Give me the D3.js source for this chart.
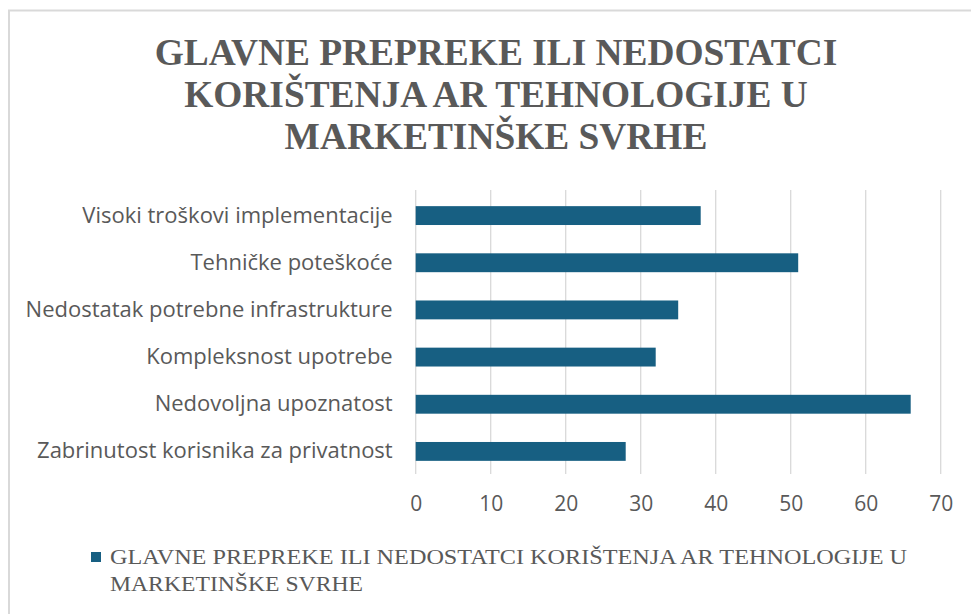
<!DOCTYPE html>
<html>
<head>
<meta charset="utf-8">
<script src="https://cdn.jsdelivr.net/npm/d3@7"></script>
<style>
  body { margin: 0; background: #fff; }
</style>
</head>
<body>
<div id="cntr"></div>
<script>
const width = 971;
const height = 614;

const categories = [
    "Visoki troškovi implementacije",
    "Tehničke poteškoće",
    "Nedostatak potrebne infrastrukture",
    "Kompleksnost upotrebe",
    "Nedovoljna upoznatost",
    "Zabrinutost korisnika za privatnost"
];
const values = [38, 51, 35, 32, 66, 28];
const xTicks = [0, 10, 20, 30, 40, 50, 60, 70];
const titleLines = [
    "GLAVNE PREPREKE ILI NEDOSTATCI",
    "KORIŠTENJA AR TEHNOLOGIJE U",
    "MARKETINŠKE SVRHE"
];
const legendLines = [
    "GLAVNE PREPREKE ILI NEDOSTATCI KORIŠTENJA AR TEHNOLOGIJE U",
    "MARKETINŠKE SVRHE"
];

const barColor = "#175f82";
const textColor = "#595959";
const gridColor = "#d9d9d9";

const svg = d3.select("#cntr")
    .append("svg")
    .attr("width", width)
    .attr("height", height);

// chart area border
svg.append("path")
    .attr("d", "M9,614 L9,10.5 L971,10.5")
    .attr("fill", "none")
    .attr("stroke", gridColor)
    .attr("stroke-width", 2);

// title
svg.append("g")
    .selectAll("text")
    .data(titleLines)
    .join("text")
        .attr("x", 496)
        .attr("y", (d, i) => 65 + i * 42)
        .attr("text-anchor", "middle")
        .style("font", "bold 37.4px 'Liberation Serif', 'Times New Roman', serif")
        .style("fill", textColor)
        .text(d => d);

const x = d3.scaleLinear()
    .domain([0, 70])
    .range([415.7, 940.7]);

const y = d3.scaleBand()
    .domain(categories)
    .range([192, 475])
    .paddingInner(0.6)
    .paddingOuter(0.3);

// gridlines
svg.append("g")
    .selectAll("line")
    .data(xTicks)
    .join("line")
        .attr("x1", d => x(d))
        .attr("x2", d => x(d))
        .attr("y1", 190)
        .attr("y2", 474)
        .attr("stroke", gridColor)
        .attr("stroke-width", 1.3);

// bars
svg.append("g")
    .selectAll("rect")
    .data(values)
    .join("rect")
        .attr("x", x(0))
        .attr("y", (d, i) => y(categories[i]))
        .attr("width", d => x(d) - x(0))
        .attr("height", y.bandwidth())
        .attr("fill", barColor);

// x axis labels
const xAxis = svg.append("g")
    .attr("transform", "translate(0,474)")
    .call(d3.axisBottom(x).tickValues(xTicks).tickSize(0).tickPadding(22));
xAxis.select(".domain").remove();
xAxis.selectAll("text")
    .style("font", "21px 'Open Sans', sans-serif")
    .style("fill", textColor);

// y axis labels
const yAxis = svg.append("g")
    .attr("transform", "translate(" + x(0) + ",0)")
    .call(d3.axisLeft(y).tickSize(0).tickPadding(23));
yAxis.select(".domain").remove();
yAxis.selectAll("text")
    .style("font", "22px 'Open Sans', sans-serif")
    .style("fill", textColor);

// legend
svg.append("rect")
    .attr("x", 91)
    .attr("y", 552)
    .attr("width", 10)
    .attr("height", 10)
    .attr("fill", barColor);

const legendWidths = [797, 253];
svg.append("g")
    .selectAll("text")
    .data(legendLines)
    .join("text")
        .attr("x", 110)
        .attr("y", (d, i) => 564 + i * 27)
        .attr("textLength", (d, i) => legendWidths[i])
        .attr("lengthAdjust", "spacingAndGlyphs")
        .style("font", "22px 'Liberation Serif', 'Times New Roman', serif")
        .style("fill", textColor)
        .text(d => d);
</script>
</body>
</html>
